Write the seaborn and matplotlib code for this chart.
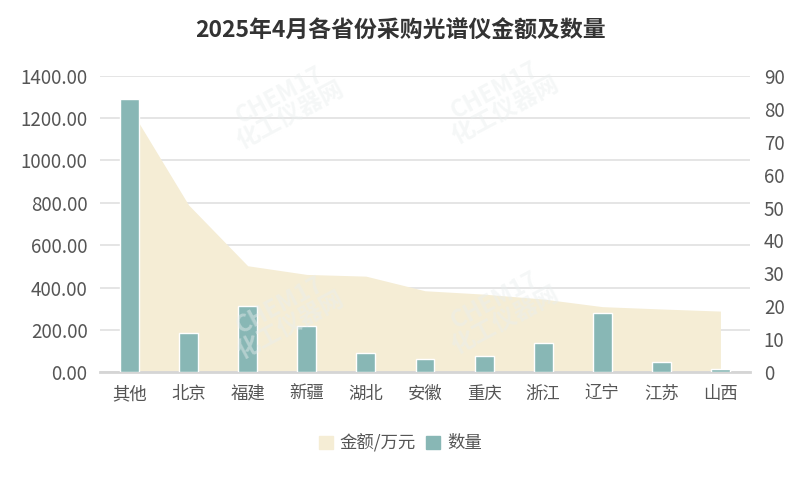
import matplotlib
matplotlib.use("Agg")
import matplotlib.pyplot as plt
import matplotlib.patches as mpatches
from matplotlib.ticker import FormatStrFormatter
import seaborn as sns
import pandas as pd

# data
provinces = ["其他", "北京", "福建", "新疆", "湖北", "安徽", "重庆", "浙江", "辽宁", "江苏", "山西"]
amount_wan = [1250, 790, 503, 462, 454, 385, 369, 346, 310, 299, 289]
counts = [83, 12, 20, 14, 6, 4, 5, 9, 18, 3, 1]

title = "2025年4月各省份采购光谱仪金额及数量"
area_color = "#F5EDD5"
bar_color = "#88B7B5"
text_color = "#555555"

sns.set_theme(style="white")
plt.rcParams["font.family"] = ["Noto Sans CJK SC", "DejaVu Sans"]

df = pd.DataFrame({"province": provinces, "amount": amount_wan, "count": counts})

fig = plt.figure(figsize=(8.01, 4.78), dpi=100)
ax = fig.add_axes([0.1248, 0.2211, 0.8115, 0.6205])
ax2 = ax.twinx()

# area for amount (left axis)
xs = list(range(len(provinces)))
ax.fill_between(xs, 0, df["amount"], color=area_color, linewidth=0, zorder=1)

# bars for count (right axis)
sns.barplot(data=df, x="province", y="count", color=bar_color, width=0.32,
            saturation=1, ax=ax2, zorder=3)

ax.set_xlim(-0.5, len(provinces) - 0.5)
ax2.set_xlim(-0.5, len(provinces) - 0.5)
ax.set_ylim(0, 1400)
ax.set_yticks(range(0, 1401, 200))
ax.yaxis.set_major_formatter(FormatStrFormatter("%.2f"))
ax2.set_ylim(0, 90)
ax2.set_yticks(range(0, 91, 10))

ax.set_xticks(xs)
ax.set_xticklabels(provinces)
ax2.set_xlabel("")
ax2.set_ylabel("")
ax2.tick_params(axis="x", bottom=False, labelbottom=False)

ax.grid(axis="y", color="#E3E3E3", linewidth=1.3, zorder=0)
ax.grid(axis="x", visible=False)
ax.set_axisbelow(True)
ax2.grid(False)

for a in (ax, ax2):
    for s in ("top", "left", "right", "bottom"):
        a.spines[s].set_visible(False)
ax.spines["bottom"].set_visible(True)
ax.spines["bottom"].set_color("#D5D5D5")
ax.spines["bottom"].set_linewidth(2)
ax.spines["bottom"].set_zorder(5)

ax.tick_params(axis="y", length=0, pad=9, labelsize=13.5, labelcolor=text_color)
ax.tick_params(axis="x", length=0, pad=9, labelsize=12.5, labelcolor=text_color)
ax2.tick_params(axis="y", length=0, pad=10, labelsize=13.5, labelcolor=text_color)
for lab in ax.get_yticklabels() + ax2.get_yticklabels() + ax.get_xticklabels():
    lab.set_fontweight("medium")

# faint watermark
for wx, wy in [(285, 105), (285, 315), (500, 100), (500, 310)]:
    fig.text(wx / 801, 1 - wy / 478, "CHEM17\n化工仪器网", rotation=28, ha="center",
             va="center", fontsize=17, fontweight="bold", color="#E9EEEE",
             alpha=0.45, zorder=10, linespacing=0.9)

fig.text(0.5, 1 - 31 / 478, title, ha="center", va="center", fontsize=16.5,
         fontweight="bold", color="#333333")

handles = [mpatches.Patch(color=area_color, label="金额/万元"),
           mpatches.Patch(color=bar_color, label="数量")]
leg = fig.legend(handles=handles, loc="center", bbox_to_anchor=(0.5, 1 - 443 / 478),
                 ncol=2, frameon=False, fontsize=12.5, handlelength=0.8, handleheight=0.8,
                 handletextpad=0.4, columnspacing=0.6, labelcolor=text_color)
for t in leg.get_texts():
    t.set_fontweight("medium")

fig.savefig("out.png", dpi=100)
